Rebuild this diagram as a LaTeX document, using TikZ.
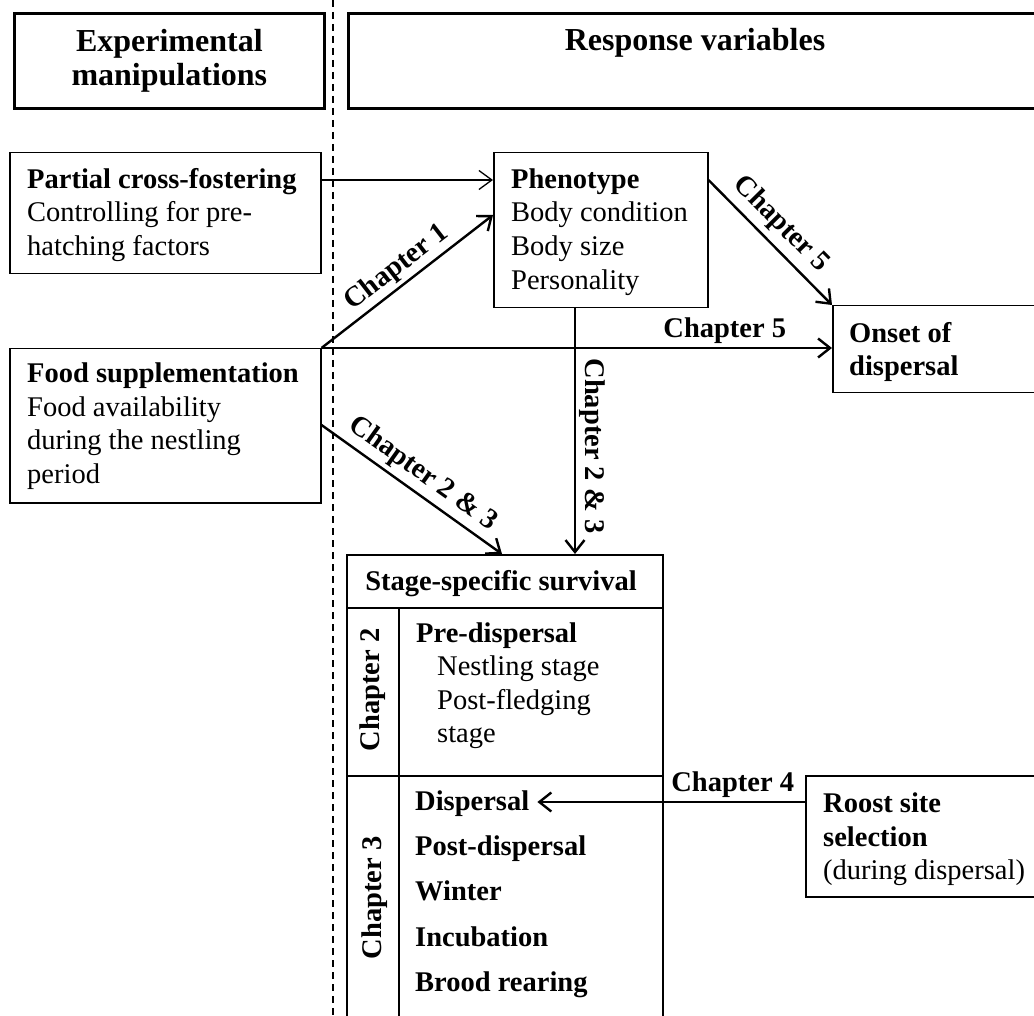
\documentclass[tikz,border=0pt]{standalone}
\usepackage{fontspec}
\setmainfont{Liberation Serif}
\usetikzlibrary{arrows.meta}
\newcommand{\tstrut}{\rule{0pt}{22pt}}
\begin{document}
\begin{tikzpicture}[x=1pt,y=-1pt,
  every node/.style={font=\fontsize{28.5}{33.8}\selectfont, inner sep=0pt},
  box/.style={draw, line width=1.5pt, anchor=north west},
  sbox/.style={draw, line width=1.9pt, anchor=north west},
  hdrbox/.style={draw, line width=2.7pt, anchor=north west},
  txt/.style={align=left, anchor=north west},
  bld/.style={font=\fontsize{28.5}{33.8}\selectfont\bfseries},
  hdr/.style={font=\fontsize{32}{34}\selectfont\bfseries},
  lab/.style={font=\fontsize{28.5}{33.8}\selectfont\bfseries, inner sep=3pt},
  thinarr/.style={line width=1.3pt, -{Straight Barb[length=13pt,width=19pt]}},
  thickarr/.style={line width=2.4pt, -{Straight Barb[length=12pt,width=19pt]}},
  divider/.style={line width=1.8pt, dash pattern=on 7pt off 5pt}
]
\useasboundingbox (0,0) rectangle (1034,1016);
\clip (0,0) rectangle (1034,1016);

% dashed divider
\coordinate (dtop) at (333,0);
\coordinate (dbot) at (333,1016);
\draw[divider] (dtop) -- (dbot);

% headers
\node[hdrbox, hdr, align=center, minimum width=310pt, minimum height=95pt] (hl) at (13,12) {Experimental\\manipulations};
\node[hdrbox, minimum width=760pt, minimum height=95pt] (hr) at (347,12) {};
\node[hdr, anchor=base] (hrt) at (695,51) {Response variables};

% boxes
\node[box, minimum width=311pt, minimum height=121pt] (pcf) at (9,152) {};
\node[box, minimum width=311pt, minimum height=154pt] (fs) at (9,348) {};
\node[box, minimum width=214pt, minimum height=155pt] (ph) at (493,152) {};
\node[box, minimum width=300pt, minimum height=87pt] (onset) at (832,305) {};
\node[box, minimum width=300pt, minimum height=121pt] (roost) at (805,775) {};

% survival table
\node[sbox, minimum width=316pt, minimum height=53pt] (surv) at (346,554) {};
\node[sbox, minimum width=52pt, minimum height=168pt] (ch2cell) at (346,607) {};
\node[sbox, minimum width=264pt, minimum height=168pt] (ch2body) at (398,607) {};
\node[sbox, minimum width=52pt, minimum height=270pt] (ch3cell) at (346,775) {};
\node[sbox, minimum width=264pt, minimum height=270pt] (ch3body) at (398,775) {};

% texts
\node[txt] (pcft) at (27,166) {\tstrut\textbf{Partial cross-fostering}\\Controlling for pre-\\hatching factors};
\node[txt] (fst) at (27,360) {\tstrut\textbf{Food supplementation}\\Food availability\\during the nestling\\period};
\node[txt] (pht) at (511,166) {\tstrut\textbf{Phenotype}\\Body condition\\Body size\\Personality};
\node[txt] (ont) at (849,320) {\tstrut\textbf{Onset of}\\\textbf{dispersal}};
\node[txt] (rst) at (823,790) {\tstrut\textbf{Roost site}\\\textbf{selection}\\(during dispersal)};

\node[bld, anchor=base] (sst) at (501,590) {Stage-specific survival};
\node[bld, rotate=90] (c2) at (373,690) {Chapter 2};
\node[bld, rotate=90] (c3) at (375,898) {Chapter 3};
\node[bld, anchor=base west] (pre) at (416,642) {Pre-dispersal};
\node[txt] (pret) at (437,653) {\tstrut Nestling stage\\Post-fledging\\stage};
\node[bld, anchor=base west] (disp) at (415,810) {Dispersal};
\node[bld, anchor=base west] (postd) at (415,855) {Post-dispersal};
\node[bld, anchor=base west] (wint) at (415,900) {Winter};
\node[bld, anchor=base west] (incub) at (415,946) {Incubation};
\node[bld, anchor=base west] (brood) at (415,991) {Brood rearing};

% connectors
\draw[thinarr] ([yshift=-28pt]pcf.north east) -- ([yshift=-28pt]ph.north west);
\draw[thickarr] (fs.north east) -- node[lab, sloped, above, pos=0.5] (l1) {Chapter 1} ([yshift=-63pt]ph.north west);
\draw[thickarr] (fs.north east) -- node[lab, above, pos=0.79] (l5b) {Chapter 5} (fs.north east -| onset.west);
\draw[thickarr] ([yshift=-28pt]ph.north east) -- node[lab, sloped, above, pos=0.47, inner sep=6pt] (l5a) {Chapter 5} (onset.north west);
\coordinate (vx) at (575,0);
\coordinate (dx) at (502,0);
\draw[thickarr] (ph.south -| vx) -- node[lab, sloped, above, pos=0.56] (l23v) {Chapter 2 \& 3} (surv.north -| vx);
\draw[thickarr] ([yshift=-77pt]fs.north east) -- node[lab, sloped, above, pos=0.5, inner sep=5pt] (l23d) {Chapter 2 \& 3} (surv.north -| dx);
\coordinate (c4) at ([yshift=-27pt]roost.north west);
\draw[thickarr] (c4) -- node[lab, above, pos=0.27] (l4) {Chapter 4} ([xshift=8pt]disp.east |- c4);
\end{tikzpicture}
\end{document}
